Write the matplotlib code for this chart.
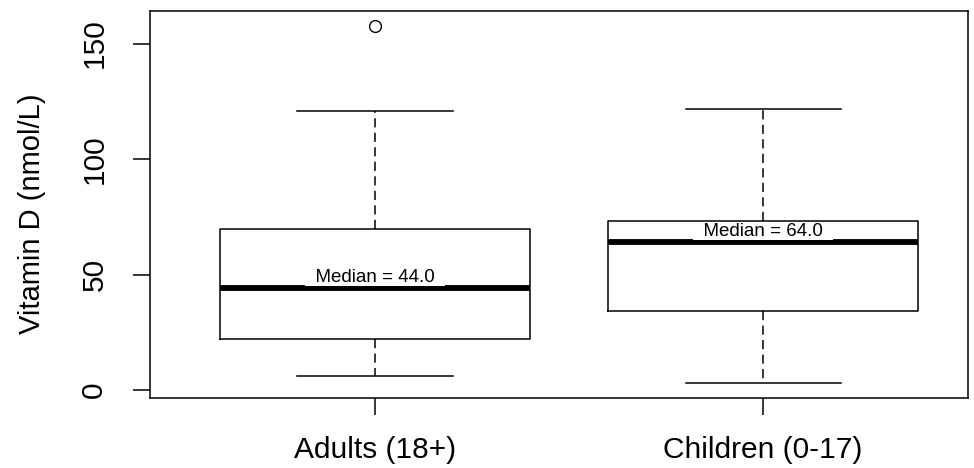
import matplotlib

matplotlib.use("Agg")

import matplotlib.pyplot as plt

# box statistics (nmol/L)
groups = ["Adults (18+)", "Children (0-17)"]
whislo = [6.1, 2.9]
q1 = [21.9, 34.2]
med = [44.0, 64.0]
q3 = [69.8, 73.0]
whishi = [120.9, 121.6]
fliers = [[157.6], []]
yticks = [0, 50, 100, 150]

plt.rcParams["font.family"] = ["Liberation Sans", "DejaVu Sans"]

fig = plt.figure(figsize=(9.74, 4.68), dpi=100)
ax = fig.add_axes([150 / 974, 1 - 398 / 468, 818 / 974, 387 / 468])

stats = [
    {"label": g, "whislo": lo, "q1": a, "med": m, "q3": b, "whishi": hi, "fliers": f}
    for g, lo, a, m, b, hi, f in zip(groups, whislo, q1, med, q3, whishi, fliers)
]
positions = list(range(1, len(groups) + 1))
ax.bxp(
    stats,
    positions=positions,
    widths=0.8,
    capwidths=0.4,
    boxprops=dict(color="black", linewidth=1.1),
    whiskerprops=dict(color="black", linewidth=1.1, linestyle=(0, (6, 3.5))),
    capprops=dict(color="black", linewidth=1.1),
    medianprops=dict(color="black", linewidth=4.2, solid_capstyle="butt"),
    flierprops=dict(marker="o", markerfacecolor="none", markeredgecolor="black",
                    markersize=8.5, markeredgewidth=1.0),
)

for x, m in zip(positions, med):
    ax.annotate(
        f"  Median = {m:.1f}  ",
        xy=(x, m),
        xytext=(0, 1.5),
        textcoords="offset points",
        ha="center",
        va="bottom",
        fontsize=13.5,
        bbox=dict(boxstyle="square,pad=0", facecolor="white", edgecolor="none"),
        zorder=5,
    )

ax.set_xlim(0.42, 2.528)
ax.set_ylim(-3.46, 164.1)
ax.set_yticks(yticks)
ax.set_yticklabels([str(t) for t in yticks], rotation=90, va="center")
ax.set_xticks(positions)
ax.set_xticklabels(groups)
ax.tick_params(axis="y", length=12, width=1.1, pad=18, labelsize=21.5)
ax.tick_params(axis="x", length=12, width=1.1, pad=15, labelsize=21.5)
for s in ax.spines.values():
    s.set_linewidth(1.1)

fig.text(32 / 974, 1 - 214 / 468, "Vitamin D (nmol/L)", rotation=90,
         ha="center", va="center", fontsize=21)

fig.savefig("out.png", dpi=100)
